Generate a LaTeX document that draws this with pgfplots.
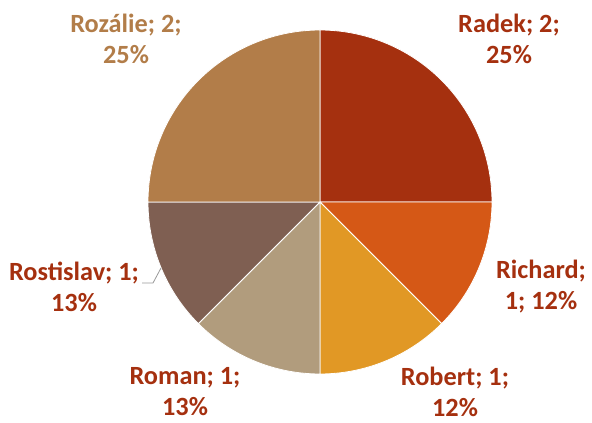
\documentclass[border=0pt]{standalone}
\usepackage{pgfplots}
\pgfplotsset{compat=1.18}
\usepackage{fontspec}
\setmainfont{Carlito}
\definecolor{cRadek}{HTML}{A5300F}
\definecolor{cRichard}{HTML}{D55816}
\definecolor{cRobert}{HTML}{E19825}
\definecolor{cRoman}{HTML}{B19C7D}
\definecolor{cRostislav}{HTML}{7F5F52}
\definecolor{cRozalie}{HTML}{B27D49}
\begin{document}
\begin{tikzpicture}
% values: Radek 2, Richard 1, Robert 1, Roman 1, Rostislav 1, Rozalie 2 (total 8, 45 deg per unit)
\begin{axis}[
  width=592pt, height=423pt, scale only axis,
  xmin=-320, xmax=272, ymin=-221, ymax=202,
  hide axis, clip=false,
]
\pgfplotsset{slice/.style={draw=white, line width=0.8pt, samples=60, variable=\t}}
\addplot[slice, fill=cRadek, domain=0:90] ({172*cos(t)},{172*sin(t)}) -- (axis cs:0,0) -- cycle;
\addplot[slice, fill=cRichard, domain=-45:0] ({172*cos(t)},{172*sin(t)}) -- (axis cs:0,0) -- cycle;
\addplot[slice, fill=cRobert, domain=-90:-45] ({172*cos(t)},{172*sin(t)}) -- (axis cs:0,0) -- cycle;
\addplot[slice, fill=cRoman, domain=-135:-90] ({172*cos(t)},{172*sin(t)}) -- (axis cs:0,0) -- cycle;
\addplot[slice, fill=cRostislav, domain=-180:-135] ({172*cos(t)},{172*sin(t)}) -- (axis cs:0,0) -- cycle;
\addplot[slice, fill=cRozalie, domain=90:180] ({172*cos(t)},{172*sin(t)}) -- (axis cs:0,0) -- cycle;
% leader line for Rostislav
\addplot[color=black!40, line width=0.8pt] coordinates {(-178,-81) (-167,-81) (-159,-66)};
\tikzset{lbl/.style={align=center, font=\bfseries\fontsize{26.3}{31}\selectfont, inner sep=0pt}}
\node[lbl, text=cRadek] at (axis cs:189,163) {Radek; 2;\\25\%};
\node[lbl, text=cRozalie] at (axis cs:-194,163) {Rozálie; 2;\\25\%};
\node[lbl, text=cRadek] at (axis cs:221,-85) {Richard;\\1; 12\%};
\node[lbl, text=cRadek] at (axis cs:135,-190) {Robert; 1;\\12\%};
\node[lbl, text=cRadek] at (axis cs:-135,-190) {Roman; 1;\\13\%};
\node[lbl, text=cRadek] at (axis cs:-246,-85) {Rostislav; 1;\\13\%};
\end{axis}
\path (0,0) rectangle (592pt,423pt);
\end{tikzpicture}
\end{document}
